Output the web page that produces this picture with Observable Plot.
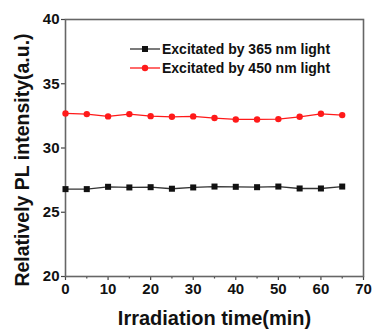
<!DOCTYPE html>
<html>
<head>
<meta charset="utf-8">
<script src="https://cdn.jsdelivr.net/npm/d3@7"></script>
<script src="https://cdn.jsdelivr.net/npm/@observablehq/plot@0.6"></script>
<style>
  html, body { margin: 0; padding: 0; background: #fff; }
  svg { display: block; }
</style>
</head>
<body>
<div id="chart"></div>
<script>
const times = [0, 5, 10, 15, 20, 25, 30, 35, 40, 45, 50, 55, 60, 65];
const series365 = [26.8, 26.8, 26.98, 26.93, 26.95, 26.83, 26.93, 27.0, 26.98, 26.95, 27.0, 26.85, 26.85, 27.0];
const series450 = [32.69, 32.64, 32.46, 32.64, 32.48, 32.43, 32.46, 32.33, 32.22, 32.22, 32.25, 32.43, 32.66, 32.56];
const seriesNames = ["Excitated by 365 nm light", "Excitated by 450 nm light"];
const seriesColors = ["#111111", "#ff1a1a"];
const xTicks = [0, 10, 20, 30, 40, 50, 60, 70];
const xMinor = [5, 15, 25, 35, 45, 55, 65];
const yTicks = [20, 25, 30, 35, 40];

const d365 = times.map((t, i) => ({t, v: series365[i]}));
const d450 = times.map((t, i) => ({t, v: series450[i]}));

const font = "'Liberation Sans', Arial, sans-serif";
const W = 372, H = 329;
const mL = 65, mR = 9, mT = 19, mB = 53;

const plot = Plot.plot({
  width: W, height: H,
  marginLeft: mL, marginRight: mR, marginTop: mT, marginBottom: mB,
  style: {fontFamily: font, background: "#fff"},
  x: {domain: [0, 70]},
  y: {domain: [20, 40]},
  marks: [
    Plot.axisX({ticks: xTicks, tickSize: 4, tickPadding: 3, fontSize: 15, fontWeight: "bold", fill: "#111", stroke: "#444", strokeWidth: 1.2, label: null}),
    Plot.axisX({ticks: xMinor, tickSize: 2.5, tickFormat: () => "", stroke: "#444", strokeWidth: 1.2, label: null}),
    Plot.axisY({ticks: yTicks, tickSize: 4, tickPadding: 2, fontSize: 15, fontWeight: "bold", fill: "#111", stroke: "#444", strokeWidth: 1.2, label: null}),
    Plot.frame({stroke: "#666", strokeWidth: 1.6}),
    Plot.line(d450, {x: "t", y: "v", stroke: seriesColors[1], strokeWidth: 1.3}),
    Plot.dot(d450, {x: "t", y: "v", fill: seriesColors[1], r: 3.2, symbol: "circle"}),
    Plot.line(d365, {x: "t", y: "v", stroke: "#333", strokeWidth: 1.3}),
    Plot.dot(d365, {x: "t", y: "v", fill: seriesColors[0], r: 3.4, symbol: "square"}),
    Plot.text(["Irradiation time(min)"], {frameAnchor: "bottom", dx: 0, dy: 42, fontSize: 20, fontWeight: "bold", fill: "#111", lineAnchor: "middle", textAnchor: "middle", text: d => d}),
    Plot.text(["Relatively PL intensity(a.u.)"], {frameAnchor: "left", dx: -43, dy: 12, rotate: -90, fontSize: 19.5, fontWeight: "bold", fill: "#111", textAnchor: "middle", text: d => d})
  ]
});

document.getElementById("chart").appendChild(plot);
const svg = d3.select(plot);

// Legend
const leg = svg.append("g").attr("font-family", font).attr("font-weight", "bold").attr("font-size", 14).attr("text-anchor", "start");
seriesNames.forEach((name, i) => {
  const yy = 49 + i * 19;
  const x0 = 130, x1 = 160;
  leg.append("line").attr("x1", x0).attr("x2", x1).attr("y1", yy).attr("y2", yy)
    .attr("stroke", i === 0 ? "#333" : seriesColors[1]).attr("stroke-width", 1.3);
  if (i === 0) {
    leg.append("rect").attr("x", (x0 + x1) / 2 - 3).attr("y", yy - 3).attr("width", 6).attr("height", 6).attr("fill", seriesColors[0]);
  } else {
    leg.append("circle").attr("cx", (x0 + x1) / 2).attr("cy", yy).attr("r", 3.2).attr("fill", seriesColors[1]);
  }
  leg.append("text").attr("x", x1 + 2).attr("y", yy).attr("dy", "0.35em").attr("fill", "#111").text(name);
});
</script>
</body>
</html>
